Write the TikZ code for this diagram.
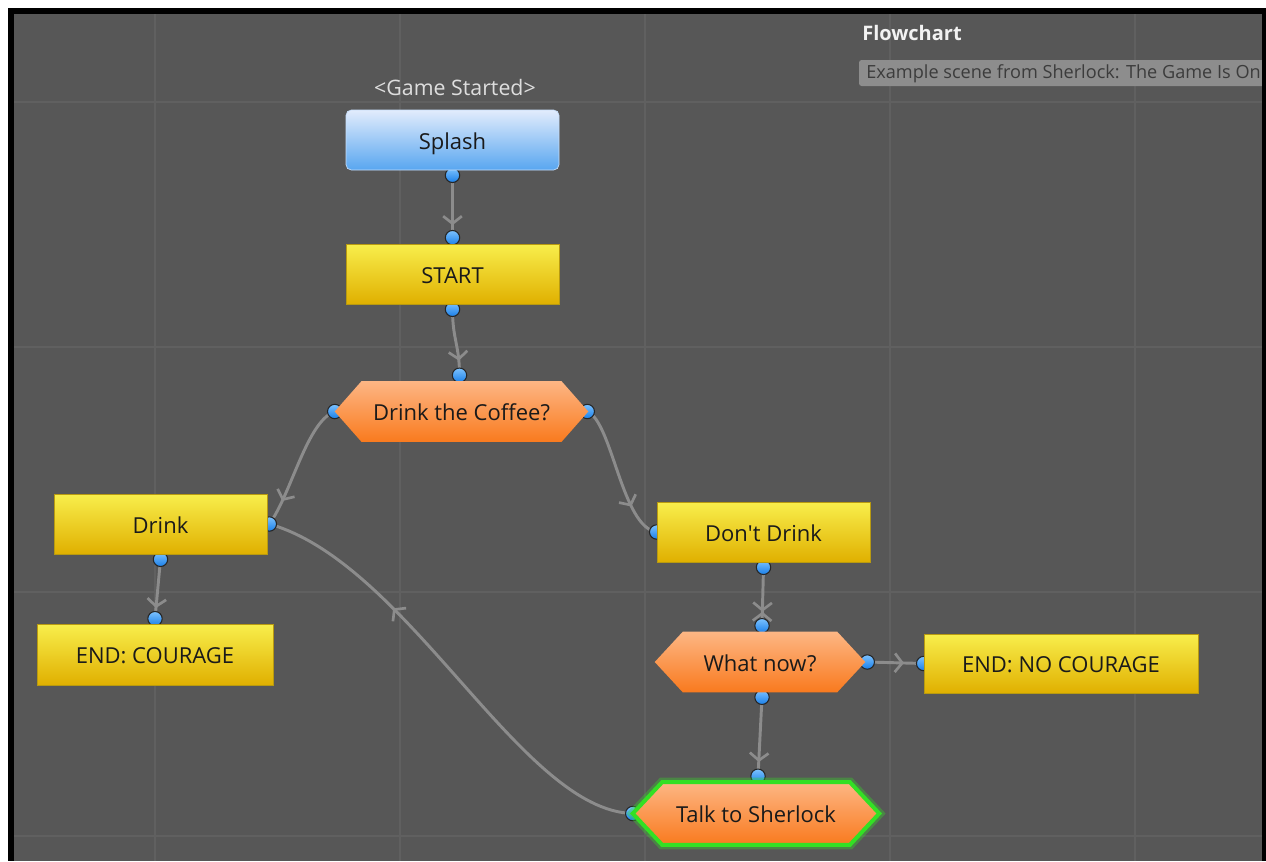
\documentclass[tikz,border=0pt]{standalone}
\usepackage{fontspec}
\setmainfont{Open Sans}
\usetikzlibrary{arrows.meta,decorations.markings}
\pgfdeclarelayer{bg}
\pgfdeclarelayer{mid}
\pgfsetlayers{bg,mid,main}
\definecolor{canvas}{HTML}{575757}
\definecolor{gridc}{HTML}{606060}
\definecolor{connc}{HTML}{8C8C8C}
\definecolor{ytop}{HTML}{F8EE4C}
\definecolor{ybot}{HTML}{E0B000}
\definecolor{yedge}{HTML}{B89A10}
\definecolor{otop}{HTML}{FDB684}
\definecolor{obot}{HTML}{F97A1E}
\definecolor{btop}{HTML}{E2ECFC}
\definecolor{bmid}{HTML}{CFE1FA}
\definecolor{bbot}{HTML}{58A6F0}
\definecolor{dottop}{HTML}{7CC2FF}
\definecolor{dotbot}{HTML}{1A7FE8}
\definecolor{glowc}{HTML}{33E024}
\definecolor{nodetext}{HTML}{1A1A1A}
\definecolor{gstext}{HTML}{DEDEDE}
\definecolor{titletext}{HTML}{F2F2F2}
\definecolor{descbg}{HTML}{8D8D8D}
\definecolor{desctext}{HTML}{3C3C3C}
\newcommand\hexpath[2]{(#1.west) -- ([xshift=#2]#1.north west) -- ([xshift=-#2]#1.north east) -- (#1.east) -- ([xshift=-#2]#1.south east) -- ([xshift=#2]#1.south west) -- cycle}
\tikzset{
  nodefont/.style={font=\fontsize{16.5}{19}\selectfont, text=nodetext, text height=13.8pt, text depth=0pt},
  yellowbox/.style={nodefont, draw=yedge, line width=0.5pt, top color=ytop, bottom color=ybot, inner sep=0pt},
  bluebox/.style={nodefont, draw=btop!80!bbot, line width=0.5pt, rounded corners=4pt, top color=btop, middle color=bmid, bottom color=bbot, inner sep=0pt},
  hexbox/.style={nodefont, inner sep=0pt},
  conn/.style={draw=connc, line width=2.2pt},
  chev/.style={decoration={markings, mark=at position #1 with {\arrow[connc]{Straight Barb[length=5.5pt,width=14pt,line width=2pt]}}}, postaction={decorate}},
  chevx/.style={decoration={markings, mark=at position #1 with {\arrow[connc]{Straight Barb[length=5.5pt,width=14pt,line width=2pt]}\arrowreversed[connc]{Straight Barb[length=5.5pt,width=14pt,line width=2pt]}}}, postaction={decorate}},
  portdot/.style={top color=dottop, bottom color=dotbot, draw=black!85, line width=0.8pt},
  gridline/.style={draw=gridc, line width=1.1pt}
}
\newcommand\portat[1]{\path[portdot] (#1) circle[radius=5.4pt];}
\begin{document}
\begin{tikzpicture}[x=0.75pt,y=-0.75pt]
\useasboundingbox (0,0) rectangle (1266,861);

% ---- nodes ----
\node[bluebox, minimum width=159.75pt, minimum height=45pt] (splash) at (452.5,140) {Splash};
\node[yellowbox, minimum width=159.75pt, minimum height=45pt] (start) at (452.5,274) {START};
\node[hexbox, minimum width=189.75pt, minimum height=45pt] (coffee) at (461.5,411.5) {Drink the Coffee?};
\node[yellowbox, minimum width=159.75pt, minimum height=45pt] (drink) at (160.5,524) {Drink};
\node[yellowbox, minimum width=177pt, minimum height=45.75pt] (endc) at (155,654.5) {END: COURAGE};
\node[yellowbox, minimum width=159.75pt, minimum height=45pt] (dont) at (763.5,532) {Don\textquotesingle t Drink};
\node[hexbox, minimum width=157.5pt, minimum height=45pt] (what) at (760,662) {What now?};
\node[yellowbox, minimum width=205.5pt, minimum height=44.25pt] (endnc) at (1061,663.5) {END: NO COURAGE};
\node[hexbox, minimum width=184.5pt, minimum height=46.5pt] (talk) at (756,813.5) {Talk to Sherlock};

\node[font=\fontsize{16}{19}\selectfont, text=gstext] (gs) at (455,87) {<Game Started>};
\node[anchor=west, font=\fontsize{15}{18}\selectfont\bfseries, text=titletext, inner sep=0pt] (title) at (862,33) {Flowchart};

% ---- port coordinates ----
\coordinate (splashS) at ([shift={(0,5)}]splash.south);
\coordinate (startN) at ([shift={(0,-6)}]start.north);
\coordinate (startS) at ([shift={(0,5)}]start.south);
\coordinate (coffeeN) at ([shift={(-2,-6)}]coffee.north);
\coordinate (coffeeW) at (coffee.west);
\coordinate (coffeeE) at ([shift={(-1,0)}]coffee.east);
\coordinate (drinkE) at ([shift={(2,0)}]drink.east);
\coordinate (drinkS) at ([shift={(0,5)}]drink.south);
\coordinate (endcN) at ([shift={(0,-5)}]endc.north);
\coordinate (dontW) at (dont.west);
\coordinate (dontS) at ([shift={(0,5)}]dont.south);
\coordinate (whatN) at ([shift={(2,-6)}]what.north);
\coordinate (whatE) at ([shift={(2,0)}]what.east);
\coordinate (whatS) at ([shift={(2,5)}]what.south);
\coordinate (endncW) at (endnc.west);
\coordinate (talkN) at ([shift={(2,-6)}]talk.north);
\coordinate (talkW) at (talk.west);

% ---- background, grid, connectors, ports ----
\begin{pgfonlayer}{bg}
\fill[white] (0,0) rectangle (1266,861);
\fill[black] (8,8) rectangle (1266,861);
\fill[canvas] (14,14) rectangle (1262,861);
\foreach \gx in {155,400,645,890,1135} \draw[gridline] (\gx,14) -- (\gx,861);
\foreach \gy in {102,347,592,836} \draw[gridline] (14,\gy) -- (1262,\gy);

\draw[conn, chev=0.8] (splashS) -- (startN);
\draw[conn, chev=0.78] (startS) .. controls +(0,30) and +(0,-30) .. (coffeeN);
\draw[conn, chev=0.8] (coffeeW) .. controls +(-28,10) and +(22,-30) .. (drinkE);
\draw[conn, chev=0.74] (coffeeE) .. controls +(25,10) and +(-35,-5) .. (dontW);
\draw[conn, chevx=0.76] (dontS) -- (whatN);
\draw[conn, chev=0.65] (whatE) -- (endncW);
\draw[conn, chev=0.82] (whatS) -- (talkN);
\draw[conn, chev=0.68] (talkW) .. controls +(-112,-3) and +(140,40) .. (drinkE);
\draw[conn, chev=0.82] (drinkS) -- (endcN);

\foreach \p in {splashS,startN,startS,coffeeN,coffeeW,coffeeE,drinkE,drinkS,endcN,dontW,dontS,whatN,whatE,whatS,endncW,talkN,talkW} {\portat{\p}}
\end{pgfonlayer}

% ---- hexagon bodies ----
\begin{pgfonlayer}{mid}
\shade[top color=otop, bottom color=obot] \hexpath{coffee}{20pt};
\shade[top color=otop, bottom color=obot] \hexpath{what}{21pt};
\draw[glowc, opacity=0.35, line width=7pt, line join=miter] \hexpath{talk}{22pt};
\shade[top color=otop, bottom color=obot, draw=glowc, line width=3pt] \hexpath{talk}{22pt};
\end{pgfonlayer}

% ---- description box ----
\fill[descbg, rounded corners=2pt] (859,60) rectangle (1275,86);
\begin{scope}
\clip (859,60) rectangle (1262,86);
\node[anchor=west, font=\fontsize{13.6}{16}\selectfont, text=desctext, inner sep=0pt] (desc) at (866,73.5) {Example scene from Sherlock: The Game Is On};
\end{scope}
\fill[black] (1262,8) rectangle (1266,861);
\end{tikzpicture}
\end{document}
